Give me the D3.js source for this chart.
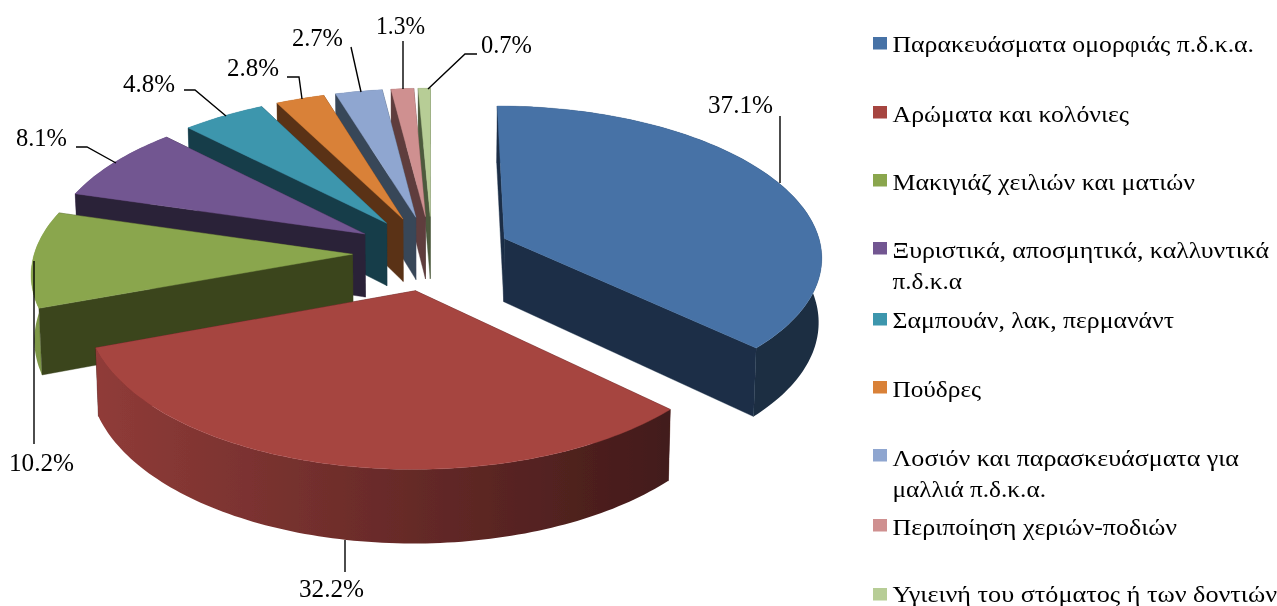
<!DOCTYPE html>
<html>
<head>
<meta charset="utf-8">
<script src="https://cdn.jsdelivr.net/npm/d3@7"></script>
<style>
html,body{margin:0;padding:0;background:#fff;overflow:hidden}
svg{display:block}
text{font-family:"Liberation Serif","Times New Roman",serif;fill:#000}
</style>
</head>
<body>
<svg id="chart" width="1277" height="606"></svg>
<script>
const categories = [
  "Παρακευάσματα ομορφιάς π.δ.κ.α.",
  "Αρώματα και κολόνιες",
  "Μακιγιάζ χειλιών και ματιών",
  "Ξυριστικά, αποσμητικά, καλλυντικά π.δ.κ.α",
  "Σαμπουάν, λακ, περμανάντ",
  "Πούδρες",
  "Λοσιόν και παρασκευάσματα για μαλλιά π.δ.κ.α.",
  "Περιποίηση χεριών-ποδιών",
  "Υγιεινή του στόματος ή των δοντιών"
];
const values = [37.1, 32.2, 10.2, 8.1, 4.8, 2.8, 2.7, 1.3, 0.7];
const topColors = ["#4672a6","#a64441","#8aa64e","#725691","#3e96ad","#d98138","#8fa6d0","#cf9090","#b7cd96"];
const faceColors = ["#1b2e47","#431a16","#3b451e","#2c2138","#183c48","#5a3316","#394659","#5e3e3e","#4d5a3d"];
const legendLines = [
  ["Παρακευάσματα ομορφιάς π.δ.κ.α."],
  ["Αρώματα και κολόνιες"],
  ["Μακιγιάζ χειλιών και ματιών"],
  ["Ξυριστικά, αποσμητικά, καλλυντικά","π.δ.κ.α"],
  ["Σαμπουάν, λακ, περμανάντ"],
  ["Πούδρες"],
  ["Λοσιόν και παρασκευάσματα για","μαλλιά π.δ.κ.α."],
  ["Περιποίηση χεριών-ποδιών"],
  ["Υγιεινή του στόματος ή των δοντιών"]
];

// ---- layout (not data)
const legendSquareTop = [37,106,174,242,313,381,449,519,588];
const legendBaselines = [[52],[122],[190],[258,289],[328],[397],[466,497],[535],[602]];
const legendEnds = [[1254],[1129],[1195],[1269,962],[1174],[981],[1239,1046],[1177],[1277]];
const labelSpans = [[708,773],[299,364],[9,74],[16,67],[123,175],[227,279],[292,343],[376,425],[481,532]];
const labelBaselines = [113,597,471,146,92,76,46,34,53];
const leaders = [
  [[780,116],[780,183]],
  [[345,540],[345,572]],
  [[34,261],[34,444]],
  [[76,147],[87,147],[116,163]],
  [[184,90],[195,90],[226,116]],
  [[287,77],[299,77],[302,99]],
  [[351,47],[361,92]],
  [[403,41],[403,89]],
  [[477,54],[465,54],[428,89]]
];
const paintOrder = [8,7,6,5,4,3,2,0,1];

const cx = 432, cy = 253, Rx = 318, Ry = 150, persp = 0.11, explode = 0.25, depth = 64;
const sx = d3.scaleLinear().domain([-1,1]).range([cx-Rx, cx+Rx]);
const sy = d3.scaleLinear().domain([-1,1]).range([cy+Ry, cy-Ry]);
const shade = d3.scaleLinear().domain([30,670]).range([0.92,0.4]).clamp(true);

const svg = d3.select("#chart");
const defs = svg.append("defs");
defs.append("filter").attr("id","soft").attr("x",0).attr("y",0).attr("width",1).attr("height",1)
  .attr("filterUnits","userSpaceOnUse").attr("x",0).attr("y",0).attr("width",1277).attr("height",606)
  .append("feGaussianBlur").attr("stdDeviation",0.45);
const root = svg.append("g").attr("filter","url(#soft)");
const pie = d3.pie().sort(null).value(d=>d);
const arcs = pie(values);
const line = d3.line();

function project(X,Y){
  const s = 1/(1+persp*Y);
  return {x:sx(X*s), y:sy(Y*s), s};
}
function upper(p){ return [p.x,p.y]; }
function lower(p){ return [cx+(p.x-cx)*0.992, p.y+depth*p.s]; }

arcs.forEach((a,i)=>{
  const base = d3.rgb(topColors[i]);
  const g = defs.append("linearGradient").attr("id","wall"+i)
    .attr("gradientUnits","userSpaceOnUse")
    .attr("x1",30).attr("x2",670).attr("y1",0).attr("y2",0);
  [30,190,350,510,670].forEach(x=>{
    const k = shade(x);
    g.append("stop").attr("offset",(x-30)/640)
      .attr("stop-color",d3.rgb(base.r*k,base.g*k,base.b*k).formatHex());
  });
});

paintOrder.forEach(i=>{
  const a = arcs[i];
  const mid = (a.startAngle+a.endAngle)/2;
  const ox = explode*Math.sin(mid), oy = explode*Math.cos(mid);
  const apex = project(ox,oy);
  const n = Math.max(4,Math.ceil((a.endAngle-a.startAngle)/0.02));
  const rim = d3.range(n+1).map(j=>{
    const t = a.startAngle+(a.endAngle-a.startAngle)*j/n;
    return project(ox+Math.sin(t), oy+Math.cos(t));
  });
  const g = root.append("g");
  const other = rim[Math.floor(n/2)];
  const faces = [rim[0],rim[n]].map(e=>{
    // a cut face looks at the viewer when the slice's body lies above its edge on screen
    const slope = (e.y-apex.y)/(e.x-apex.x || 1e-6);
    const front = other.y < apex.y + slope*(other.x-apex.x);
    return {e,front};
  });
  const drawFace = f => g.append("path")
    .attr("d",line([upper(apex),upper(f.e),lower(f.e),lower(apex)])+"Z")
    .attr("fill",faceColors[i]).attr("stroke",faceColors[i]).attr("stroke-width",0.4);
  faces.filter(f=>!f.front).forEach(drawFace);
  g.append("path").attr("d",line(rim.map(upper).concat(rim.slice().reverse().map(lower)))+"Z")
    .attr("fill",`url(#wall${i})`);
  faces.filter(f=>f.front).forEach(drawFace);
  g.append("path").attr("d",line([upper(apex)].concat(rim.map(upper)))+"Z")
    .attr("fill",topColors[i]).attr("stroke",topColors[i]).attr("stroke-width",0.4);
});

// leader lines
root.append("g").selectAll("path").data(leaders).join("path")
  .attr("d",d=>line(d)).attr("fill","none").attr("stroke","#000").attr("stroke-width",1.4);

// data labels
root.append("g").selectAll("text").data(values).join("text")
  .attr("x",(d,i)=>labelSpans[i][0]).attr("y",(d,i)=>labelBaselines[i])
  .attr("textLength",(d,i)=>labelSpans[i][1]-labelSpans[i][0])
  .attr("lengthAdjust","spacingAndGlyphs")
  .attr("font-size",24.5)
  .text(d=>d.toFixed(1)+"%");

// legend
const lg = root.append("g");
categories.forEach((c,i)=>{
  lg.append("rect").attr("x",873).attr("y",legendSquareTop[i])
    .attr("width",14).attr("height",12.5).attr("fill",topColors[i]);
  legendLines[i].forEach((t,j)=>{
    lg.append("text").attr("x",892.5).attr("y",legendBaselines[i][j])
      .attr("textLength",legendEnds[i][j]-892.5)
      .attr("lengthAdjust","spacingAndGlyphs")
      .attr("font-size",23.5).text(t);
  });
});
</script>
</body>
</html>
